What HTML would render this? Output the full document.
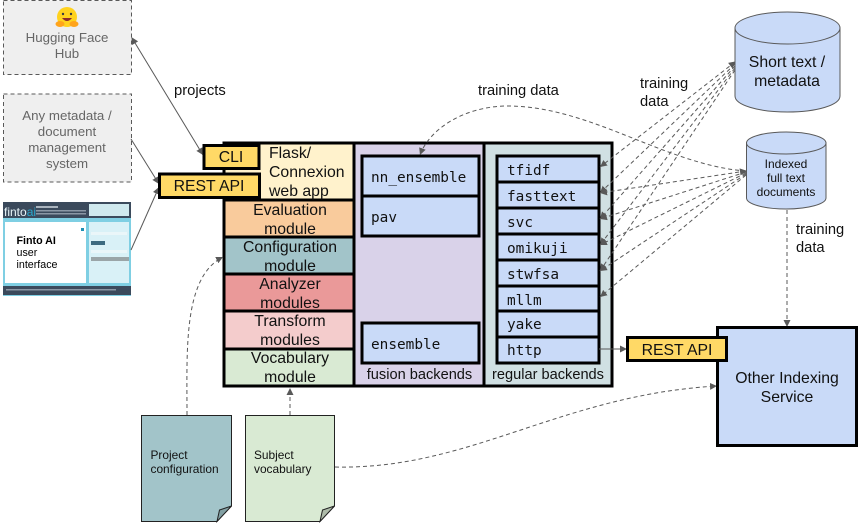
<!DOCTYPE html>
<html><head><meta charset="utf-8"><style>
html,body{margin:0;padding:0;background:#fff;width:864px;height:528px;overflow:hidden}
svg{display:block}
text{font-family:"Liberation Sans",sans-serif;font-size:15.8px;fill:#111}
.c{text-anchor:middle}
.g{fill:#666;font-size:13.3px;text-anchor:middle}
.m{font-family:"DejaVu Sans Mono","Liberation Mono",monospace;font-size:14.4px;fill:#111}
.b{stroke:#000;stroke-width:3}
.d{fill:none;stroke:#595959;stroke-width:1;stroke-dasharray:4 3}
.s{fill:none;stroke:#595959;stroke-width:1}
</style></head><body>
<svg width="864" height="528" viewBox="0 0 864 528" xmlns="http://www.w3.org/2000/svg">
<defs>
<marker id="a" markerWidth="9" markerHeight="8" refX="7" refY="3.5" orient="auto" markerUnits="userSpaceOnUse"><path d="M0 0L7 3.5L0 7Z" fill="#595959"/></marker>
<marker id="r" markerWidth="9" markerHeight="8" refX="1" refY="3.5" orient="auto" markerUnits="userSpaceOnUse"><path d="M7 0L0 3.5L7 7Z" fill="#595959"/></marker>
</defs>

<!-- left sources -->
<rect x="3.5" y="0.5" width="128" height="74" fill="#efefef" stroke="#595959" stroke-dasharray="4 3"/>
<rect x="3.5" y="94" width="128" height="88" fill="#efefef" stroke="#595959" stroke-dasharray="4 3"/>
<circle cx="67" cy="17" r="10" fill="#ffd21e"/>
<ellipse cx="60" cy="24" rx="4.5" ry="3" fill="#ffa41b"/><ellipse cx="74" cy="24" rx="4.5" ry="3" fill="#ffa41b"/>
<circle cx="63" cy="14" r="1.2" fill="#3a3b45"/><circle cx="71" cy="14" r="1.2" fill="#3a3b45"/>
<path d="M62 18Q67 24 72 18Z" fill="#8c2a2a"/>
<text class="g" x="67" y="42">Hugging Face</text>
<text class="g" x="67" y="58">Hub</text>
<text class="g" x="67" y="120">Any metadata /</text>
<text class="g" x="67" y="136">document</text>
<text class="g" x="67" y="152">management</text>
<text class="g" x="67" y="168">system</text>

<!-- Finto mock -->
<rect x="3" y="202" width="128" height="94" fill="#7fcfe3"/>
<rect x="3" y="202" width="128" height="16" fill="#3b4a5c"/>
<rect x="89" y="204" width="40" height="12" fill="#cfe9ee"/>
<rect x="36" y="206" width="22" height="2" fill="#aab4be"/><rect x="36" y="210" width="50" height="1.5" fill="#8b97a5"/><rect x="36" y="213" width="50" height="1.5" fill="#8b97a5"/>
<text x="4" y="216" style="font-size:12px;fill:#e8f4f8">finto<tspan style="fill:#2aa6cc">ai</tspan></text>
<rect x="5" y="222" width="81" height="61" fill="#fff"/>
<rect x="89" y="222" width="40" height="61" fill="#d9f1f7"/>
<rect x="91" y="232" width="36" height="3" fill="#eaf6f9"/>
<rect x="91" y="241" width="14" height="4" fill="#3b6a80"/>
<rect x="91" y="250" width="36" height="3" fill="#eaf6f9"/>
<rect x="91" y="257" width="38" height="4" fill="#9aa5a8"/>
<rect x="81" y="228" width="3" height="3" fill="#1f8fb5"/>
<rect x="3" y="286" width="128" height="9" fill="#3b4a5c"/>
<rect x="6" y="289" width="110" height="1.5" fill="#8b97a5"/>
<text x="16.500" y="244" style="font-weight:bold;font-size:10.700px;fill:#000">Finto AI</text>
<text x="16.500" y="256" style="font-size:10.700px;fill:#000">user</text>
<text x="16.500" y="268" style="font-size:10.700px;fill:#000">interface</text>

<!-- main -->
<rect x="224" y="143" width="130" height="243" fill="#fff"/>
<rect x="224" y="143" width="130" height="57" fill="#fff2cc"/>
<rect x="224" y="200" width="130" height="37" fill="#f9cb9c"/>
<rect x="224" y="237" width="130" height="37" fill="#a2c4c9"/>
<rect x="224" y="274" width="130" height="37" fill="#ea9999"/>
<rect x="224" y="311" width="130" height="38" fill="#f4cccc"/>
<rect x="224" y="349" width="130" height="37" fill="#d9ead3"/>
<rect x="354" y="143" width="130" height="243" fill="#d9d2e9"/>
<rect x="484" y="143" width="128" height="243" fill="#d0e0e3"/>
<g class="b" fill="none">
<path d="M224 200H354M224 237H354M224 274H354M224 311H354M224 349H354"/>
<rect x="224" y="143" width="130" height="243"/>
<rect x="354" y="143" width="130" height="243"/>
<rect x="484" y="143" width="128" height="243"/>
</g>

<text x="269" y="158">Flask/</text>
<text x="269" y="177">Connexion</text>
<text x="269" y="196">web app</text>
<text class="c" x="290" y="215">Evaluation</text><text class="c" x="290" y="234">module</text>
<text class="c" x="290" y="252">Configuration</text><text class="c" x="290" y="271">module</text>
<text class="c" x="290" y="289">Analyzer</text><text class="c" x="290" y="308">modules</text>
<text class="c" x="290" y="326">Transform</text><text class="c" x="290" y="345">modules</text>
<text class="c" x="290" y="363">Vocabulary</text><text class="c" x="290" y="382">module</text>

<!-- fusion -->
<g class="b" fill="#c9daf8">
<rect x="362" y="156" width="117" height="40"/>
<rect x="362" y="196" width="117" height="40"/>
<rect x="362" y="323" width="117" height="40"/>
<rect x="497" y="156" width="102" height="26"/>
<rect x="497" y="182" width="102" height="26"/>
<rect x="497" y="208" width="102" height="26"/>
<rect x="497" y="234" width="102" height="26"/>
<rect x="497" y="260" width="102" height="26"/>
<rect x="497" y="286" width="102" height="25"/>
<rect x="497" y="311" width="102" height="26"/>
<rect x="497" y="337" width="102" height="26"/>
</g>
<text class="m" x="371" y="182">nn_ensemble</text>
<text class="m" x="371" y="222">pav</text>
<text class="m" x="371" y="349">ensemble</text>
<text class="m" x="507" y="175">tfidf</text>
<text class="m" x="507" y="201">fasttext</text>
<text class="m" x="507" y="227">svc</text>
<text class="m" x="507" y="253">omikuji</text>
<text class="m" x="507" y="279">stwfsa</text>
<text class="m" x="507" y="305">mllm</text>
<text class="m" x="507" y="329">yake</text>
<text class="m" x="507" y="355">http</text>
<text class="c" x="419.500" y="379" style="font-size:14.600px">fusion backends</text>
<text class="c" x="548" y="379" style="font-size:14.600px">regular backends</text>

<!-- connectors -->
<path class="s" d="M132 38L203 155" marker-start="url(#r)" marker-end="url(#a)"/>
<path class="s" d="M131 139L159 184" marker-end="url(#a)"/>
<path class="s" d="M131 250L159 187" marker-end="url(#a)"/>
<path class="s" d="M599 349H627" marker-end="url(#a)"/>
<g class="d">
<path d="M735 62L600 167" marker-start="url(#r)" marker-end="url(#a)"/>
<path d="M735 64L600 193" marker-end="url(#a)"/>
<path d="M735 66L600 219" marker-end="url(#a)"/>
<path d="M735 68L600 245" marker-end="url(#a)"/>
<path d="M735 70L600 271" marker-end="url(#a)"/>
<path d="M746 171L600 193" marker-start="url(#r)" marker-end="url(#a)"/>
<path d="M746 172L600 219" marker-end="url(#a)"/>
<path d="M746 173L600 245" marker-end="url(#a)"/>
<path d="M746 174L600 271" marker-end="url(#a)"/>
<path d="M746 175L600 297" marker-end="url(#a)"/>
<path d="M746 171C665 165 590 105 505 106C465 107 430 128 420 155" marker-end="url(#a)"/>
<path d="M787 210V327" marker-end="url(#a)"/>
<path d="M187 415C187 350 183 277 223 257" marker-end="url(#a)"/>
<path d="M290 415V388" marker-end="url(#a)"/>
<path d="M335 467C470 470 560 395 717 386" marker-end="url(#a)"/>
</g>

<!-- API boxes -->
<g class="b" fill="#ffd966">
<rect x="204" y="145.500" width="55" height="23"/>
<rect x="159.500" y="174" width="100" height="23.500"/>
<rect x="717.500" y="327.500" width="139" height="118" fill="#c9daf8"/>
<rect x="627.500" y="337.500" width="99" height="23"/>
</g>
<text class="c" x="231" y="162">CLI</text>
<text class="c" x="209" y="191">REST API</text>
<text class="c" x="677" y="355">REST API</text>
<text class="c" x="787" y="383">Other Indexing</text>
<text class="c" x="787" y="402">Service</text>

<!-- cylinders -->
<path d="M735 28V96C735 105 758 112 787.500 112S840 105 840 96V28Z" fill="#c9daf8" stroke="#595959"/>
<ellipse cx="787.500" cy="28" rx="52.500" ry="16" fill="#c9daf8" stroke="#595959"/>
<text class="c" x="787" y="67">Short text /</text>
<text class="c" x="787" y="86">metadata</text>
<path d="M746.500 143V198C746.500 204 764 209 786 209S826 204 826 198V143Z" fill="#c9daf8" stroke="#595959"/>
<ellipse cx="786.250" cy="143" rx="39.750" ry="11" fill="#c9daf8" stroke="#595959"/>
<text class="c" x="786" y="168" style="font-size:12px">Indexed</text>
<text class="c" x="786" y="182" style="font-size:12px">full text</text>
<text class="c" x="786" y="196" style="font-size:12px">documents</text>

<!-- notes -->
<path d="M141.500 415.500H231.500V506L217 521.500H141.500Z" fill="#a2c4c9" stroke="#222"/>
<path d="M231.500 506L219.500 510L217 521.500Z" fill="#82a0a3" stroke="#222"/>
<path d="M245.500 415.500H334.500V506L320 521.500H245.500Z" fill="#d9ead3" stroke="#222"/>
<path d="M334.500 506L322.500 510L320 521.500Z" fill="#aebba9" stroke="#222"/>
<text x="150.500" y="459" style="font-size:11.900px">Project</text>
<text x="150.500" y="473" style="font-size:11.900px">configuration</text>
<text x="254" y="459" style="font-size:11.900px">Subject</text>
<text x="254" y="473" style="font-size:11.900px">vocabulary</text>

<!-- labels -->
<text x="174" y="95" style="font-size:14.800px">projects</text>
<text x="478" y="95" style="font-size:14.700px">training data</text>
<text x="640" y="88" style="font-size:14.700px">training</text>
<text x="640" y="106" style="font-size:14.700px">data</text>
<text x="796" y="234" style="font-size:14.700px">training</text>
<text x="796" y="252" style="font-size:14.700px">data</text>
</svg>
</body></html>
